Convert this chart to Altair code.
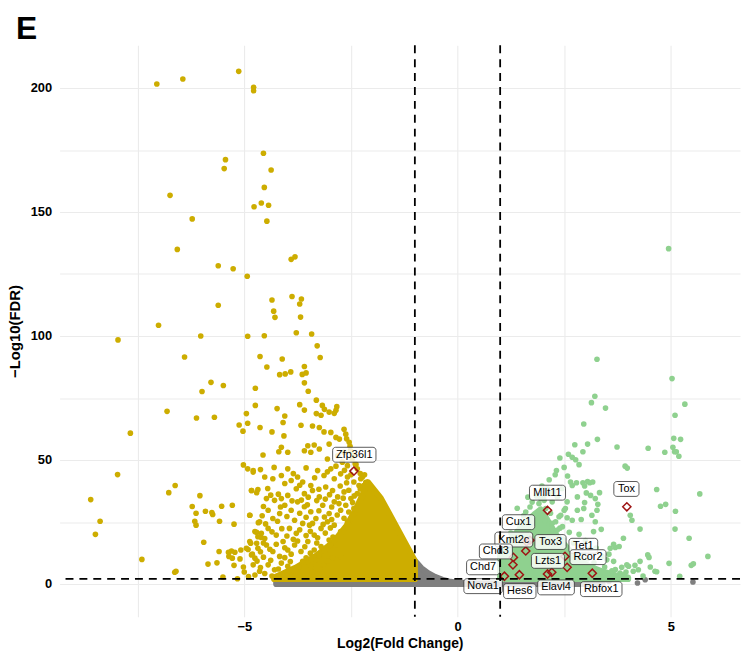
import altair as alt
import pandas as pd

# ---------------- data (log2 fold change, -log10 FDR) ----------------
down_pts = [
    (-7.05,201.6),(-6.44,203.6),(-5.13,206.7),(-4.78,200.3),(-4.78,198.9),(-4.55,173.7),(-5.44,171.1),
    (-5.47,167.5),(-4.37,166.9),(-6.74,156.7),(-4.53,159.9),(-4.77,152.1),(-4.60,153.6),(-4.43,152.7),
    (-6.22,147.2),(-4.47,146.3),(-6.57,134.9),(-3.90,130.9),(-3.81,131.9),(-5.61,128.3),(-5.26,127.1),
    (-4.93,124.1),(-4.35,114.5),(-3.88,115.9),(-3.66,114.9),(-3.70,112.9),(-5.61,112.4),(-4.31,110.0),
    (-4.28,107.5),(-3.68,107.6),(-7.01,104.3),(-7.96,98.4),(-6.02,100.0),(-4.92,99.9),(-4.53,100.1),
    (-3.78,101.3),(-3.42,100.8),(-3.29,96.0),(-6.40,91.5),(-4.63,91.7),(-4.11,90.7),(-3.22,91.3),
    (-4.47,87.5),(-3.59,87.7),(-3.55,85.1),(-4.17,84.4),(-4.04,84.7),(-3.91,85.5),(-3.64,84.5),
    (-5.78,81.3),(-5.49,80.0),(-5.99,77.6),(-3.59,81.1),(-3.50,77.7),(-4.74,78.9),(-3.31,74.1),
    (-3.17,72.0),(-3.70,72.3),(-3.59,70.1),(-4.74,72.0),(-4.23,70.7),(-3.12,70.4),(-3.01,69.3),
    (-2.83,71.5),(-2.85,70.0),(-2.89,68.8),(-4.95,68.7),(-3.20,68.0),(-3.31,68.7),(-6.12,66.9),
    (-5.70,67.2),(-4.05,67.7),(-5.12,64.1),(-4.92,64.8),(-5.03,61.6),
    (-6.81,69.6),(-7.67,60.8),(-7.97,44.1),(-5.02,48.0),(-4.92,46.4),(-4.79,45.1),(-6.62,39.7),
    (-6.77,36.8),(-6.04,35.6),(-8.60,34.0),(-4.83,37.7),(-4.71,36.8),(-6.22,31.2),(-6.13,28.5),
    (-5.91,29.3),(-5.74,28.0),(-5.76,28.8),(-5.53,31.3),(-5.28,31.7),(-8.38,25.3),(-8.49,20.0),
    (-6.16,25.3),(-6.13,23.7),(-5.58,25.3),(-5.24,24.1),(-4.87,27.7),(-4.71,20.8),(-5.95,16.8),
    (-5.59,13.1),(-5.37,12.8),(-5.30,13.3),(-5.22,12.8),(-5.36,11.1),(-5.28,10.4),(-5.08,13.7),
    (-4.95,14.4),(-4.91,13.9),(-4.85,16.4),(-4.71,16.4),(-4.81,12.0),(-4.75,10.4),(-5.10,10.1),
    (-5.85,8.0),(-5.64,8.5),(-5.24,7.5),(-5.02,6.8),(-5.00,4.8),(-7.40,9.9),(-6.63,4.7),(-6.60,5.1),
    (-5.50,2.8),(-5.16,2.1),(-4.75,3.6),(-4.67,24.7),(-4.60,18.7),
    (-4.63,63.1),(-4.35,61.3),(-4.09,65.1),(-4.07,59.7),(-3.67,64.0),(-3.40,63.7),(-3.24,63.1),
    (-3.13,61.3),(-2.97,61.1),(-2.85,59.1),(-2.66,62.4),(-2.62,60.4),(-2.54,57.1),(-3.51,55.7),
    (-3.36,56.0),(-3.24,54.4),(-3.01,56.4),(-4.13,55.1),(-4.19,53.3),(-3.98,53.1),(-3.59,53.7),
    (-3.44,53.1),(-4.56,52.0),(-2.77,58.4),(-2.51,53.7),(-2.66,53.1),(-2.81,51.7),(-3.05,50.4),
    (-2.47,50.4),(-2.58,47.7),(-2.70,49.1),(-2.35,46.4),(-2.23,43.1),(-2.31,39.7),
    (-4.79,45.7),(-4.62,46.1),(-4.52,43.1),(-4.33,42.4),(-4.13,43.7),(-3.98,46.4),(-3.90,41.7),
    (-3.75,43.1),(-3.63,41.1),(-3.44,39.7),(-3.28,45.7),(-3.13,43.7),(-2.97,46.4),(-2.89,42.4),
    (-2.74,44.4),(-2.58,43.1),(-2.43,41.1),(-2.27,42.4),(-2.20,39.7),
    (-4.83,37.7),(-4.68,38.1),(-4.48,34.4),(-4.29,33.7),(-4.13,34.4),(-3.98,35.7),(-3.78,38.4),
    (-3.59,36.4),(-3.40,37.7),(-3.24,35.1),(-3.09,39.1),(-2.93,37.7),(-2.81,35.1),(-2.66,37.1),
    (-2.50,34.4),(-2.35,36.4),
    (-4.87,27.7),(-4.64,25.1),(-4.44,29.7),(-4.33,26.4),(-4.17,28.4),(-4.05,31.7),(-3.90,29.7),
    (-3.75,33.1),(-3.59,31.1),(-3.44,29.1),(-3.32,26.4),(-3.16,31.7),(-3.01,28.4),(-2.89,33.1),
    (-2.74,29.7),(-2.62,31.7),(-2.43,30.4),
    (-4.87,17.1),(-4.75,21.1),(-4.60,20.4),(-4.44,22.4),(-4.25,19.7),(-4.09,17.1),(-3.94,22.4),
    (-3.78,20.4),(-3.63,24.4),(-3.47,23.7),(-3.36,19.7),(-3.20,22.4),(-3.05,25.1),(-2.89,23.7),
    (-2.74,21.1),(-2.58,25.1),
    (-4.83,11.7),(-4.68,14.4),(-4.48,15.7),(-4.33,13.1),(-4.17,11.1),(-3.98,13.7),(-3.82,15.7),
    (-3.67,13.1),(-3.51,17.1),(-3.36,13.7),(-3.20,15.1),(-3.01,17.7),(-2.85,15.7),
    (-4.79,7.7),(-4.64,5.1),(-4.44,7.7),(-4.29,5.7),(-4.13,8.4),(-3.98,7.1),(-3.82,5.1),
    (-3.63,9.1),(-3.44,7.1),(-3.32,9.7),(-3.13,7.7),(-2.93,10.4),(-2.74,11.1),
    (-2.15,41.0),(-2.28,44.5),(-2.40,48.5),(-2.45,52.0),(-2.52,55.5),(-2.60,58.5),(-2.18,44.0),
    (-3.85,44.5),(-3.55,46.8),(-3.35,42.8),(-3.05,45.2),(-2.85,47.5),(-2.65,45.8),(-2.50,44.0),
    (-2.38,48.2),(-4.30,47.0),(-4.05,40.5),
    (-4.45,38.5),(-4.20,36.2),(-3.70,39.8),(-3.50,35.0),(-3.25,38.2),(-3.00,36.0),(-2.75,39.5),
    (-2.55,37.8),(-2.42,35.5),(-2.28,38.3),(-2.60,40.8),
    (-4.55,31.2),(-4.38,35.8),(-4.15,31.0),(-3.88,33.5),(-3.66,33.8),(-3.52,31.9),(-3.30,33.6),
    (-3.10,34.2),(-2.95,31.0),(-2.78,32.4),(-2.55,29.0),(-2.68,34.6),(-2.46,32.8),
    (-4.58,27.5),(-4.50,24.2),(-4.22,25.3),(-4.00,27.2),(-3.82,25.7),(-3.70,28.5),(-3.55,26.9),
    (-3.25,29.5),(-3.12,27.0),(-2.95,26.0),(-2.82,27.8),(-2.66,26.5),(-3.40,24.4),
    (-4.68,19.0),(-4.52,18.3),(-4.35,21.0),(-4.12,22.3),(-4.00,19.3),(-3.85,18.0),(-3.70,21.8),
    (-3.55,19.5),(-3.45,21.2),(-3.28,18.6),(-3.10,20.5),(-2.98,22.6),(-2.92,18.9),(-3.15,24.0),
    (-4.62,13.0),(-4.55,16.5),(-4.40,14.0),(-4.25,16.0),(-4.05,14.6),(-3.90,12.0),(-3.75,17.3),
    (-3.58,15.0),(-3.45,12.4),(-3.30,16.5),(-3.12,13.2),(-2.98,15.8),(-3.25,11.5),
    (-4.90,3.0),(-4.70,9.2),(-4.55,10.8),(-4.52,4.2),(-4.38,9.5),(-4.20,6.0),(-4.05,10.6),
    (-3.92,9.0),(-3.72,6.8),(-3.55,10.5),(-3.40,4.8),(-3.22,5.8),(-3.05,9.3),(-4.62,6.6),
    (-4.35,3.2),(-4.00,3.4),(-3.70,3.0),
]
down_x = [p[0] for p in down_pts]
down_y = [p[1] for p in down_pts]

up_pts = [
    (4.95,135.2),(3.27,90.6),(5.03,82.8),(3.22,75.7),(3.14,73.1),(3.47,70.9),(5.33,72.5),(5.10,68.0),
    (2.96,64.5),(2.75,56.1),(3.05,56.4),(3.28,58.3),(3.74,55.2),(4.47,54.7),(5.07,58.7),(5.23,58.3),
    (5.05,55.1),(5.13,53.3),(5.19,51.5),(4.86,53.1),(2.40,50.8),(2.60,52.3),(2.69,51.1),(2.77,50.1),
    (2.85,48.1),(2.32,45.7),(2.29,44.0),(3.93,47.5),(3.98,46.7),(2.79,40.8),(2.94,40.8),(3.05,41.3),
    (3.10,40.8),(3.17,41.1),(3.33,36.8),(3.23,34.4),(3.29,32.1),(2.98,39.5),(3.02,36.7),(4.67,38.1),
    (5.68,36.3),(4.76,31.3),(4.88,32.1),(5.11,29.3),(4.05,27.7),(4.09,25.7),(4.28,22.1),(5.10,22.1),
    (5.43,18.4),(5.87,11.1),(5.53,8.1),(5.48,7.5),(4.96,8.3),(4.67,4.9),(5.21,3.1),(3.37,22.0),
    (3.19,21.1),(3.23,25.1),(3.15,27.7),(3.27,29.7),(2.96,30.4),(2.98,32.8),(2.81,35.1),(2.69,39.7),
    (3.12,35.7),(2.57,33.1),(2.50,29.7),(2.38,27.1),(2.22,24.4),(2.07,30.4),(2.22,33.1),(2.34,35.1),
    (2.02,35.1),(1.95,34.4),(2.15,36.4),(2.26,37.1),(3.58,14.4),(3.70,14.7),(3.79,15.1),(3.39,11.1),
    (3.50,9.7),(3.66,9.1),(3.89,3.7),(4.01,7.1),(4.16,7.5),(4.28,9.1),(4.46,11.7),(4.49,10.7),
    (3.85,6.7),(3.81,4.4),(3.62,5.3),(2.94,53.3),(5.09,53.3),(2.65,41.1),(2.81,29.7),(2.53,30.4),
    (2.42,27.7),(2.57,26.7),(2.30,25.1),(2.22,22.4),(2.34,21.7),(2.46,23.1),(2.69,25.7),(1.91,32.4),
    (2.03,33.7),(3.89,18.4),(3.66,16.0),(3.97,7.7),(4.24,5.7),(4.12,5.1),(4.63,5.1),
    (1.75,33.0),(1.85,35.5),(2.10,38.5),(1.60,29.0),(2.85,20.0),(3.00,17.5),(3.10,14.0),(2.90,26.0),
    (1.25,20.5),(1.45,24.0),(1.55,27.5),(1.70,31.0),(1.80,26.5),(1.92,29.0),(2.05,25.5),(2.18,28.5),
    (2.28,19.5),(2.40,22.5),(2.48,18.0),(2.62,20.8),(2.72,16.5),(2.80,13.0),(2.95,12.5),(3.05,10.2),
    (3.20,8.5),(3.25,14.5),(3.45,6.8),(3.55,12.0),(3.70,5.8),(3.95,4.8),(3.30,3.5),(3.08,5.0),
    (2.88,6.5),(4.35,3.2),(4.52,6.8),(1.40,30.5),(1.65,35.0),(1.98,39.5),(2.45,38.5),(2.58,43.5),
    (2.50,47.0),(2.15,42.0),
]
up_x = [p[0] for p in up_pts]
up_y = [p[1] for p in up_pts]

ns_x = [4.22, 4.40, 5.52, 3.30, 3.55]
ns_y = [0.4, 1.7, 0.8, 0.6, 1.0]

# dense cores of the point clouds (outline of the overlapping points)
down_core_x = [-4.30, -3.80, -3.30, -2.90, -2.60, -2.40, -2.25, -2.10, -1.80, -1.60, -1.40, -1.20, -1.00]
down_core_top = [2.6, 6.5, 11.5, 17.0, 23.5, 29.5, 35.0, 41.0, 34.6, 28.3, 22.0, 15.6, 9.3]
up_core_x = [1.00, 1.20, 1.40, 1.60, 1.80, 1.95, 2.10, 2.30, 2.50, 2.70, 2.90, 3.10, 3.40, 3.70, 4.00]
up_core_top = [13.0, 17.0, 21.0, 25.0, 28.0, 30.0, 26.0, 20.0, 16.0, 12.0, 9.0, 7.0, 5.0, 3.5, 2.6]
ns_core_x = [-4.25, -1.02, -1.00, -0.85, -0.70, -0.53, -0.35, -0.20, 0.00, 0.30, 0.60, 1.00, 1.50, 2.50, 3.40]
ns_core_top = [1.5, 1.5, 9.3, 6.4, 4.4, 2.8, 1.6, 1.0, 0.5, 0.2, 0.1, 0.1, 0.3, 0.5, 0.3]

genes = ["Zfp36l1", "Mllt11", "Tox", "Cux1", "Kmt2c", "Tox3", "Chd3", "Tet1",
         "Lzts1", "Rcor2", "Chd7", "Nova1", "Hes6", "Elavl4", "Rbfox1"]
gene_x = [-2.43, 2.11, 3.97, 1.62, 1.70, 1.60, 1.31, 2.52, 2.21, 2.57, 1.30, 1.10, 1.45, 2.11, 3.16]
gene_y = [45.5, 29.7, 31.1, 17.0, 17.6, 13.3, 10.7, 11.1, 4.7, 6.7, 7.7, 3.1, 3.7, 4.0, 4.3]
label_x = [-2.42, 2.11, 3.96, 1.43, 1.32, 2.18, 0.90, 2.95, 2.12, 3.06, 0.60, 0.60, 1.46, 2.31, 3.37]
label_y = [52.1, 36.8, 38.3, 24.9, 17.9, 16.9, 13.1, 15.4, 9.3, 10.8, 6.7, -0.9, -2.9, -1.4, -2.1]

fc_cut = [-1, 1]
fdr_cut = [2]

# ---------------- layout / style ----------------
FONT = "Liberation Sans"
YELLOW = "#CDAD00"
GREEN = "#8FD18F"
GREY = "#7F7F7F"
RED = "#9E1414"
W, H = 686, 576
XMIN, XMAX = -9.33, -9.33 + W / 43.0
YMIN, YMAX = -13.2, 217.2
PXX = W / (XMAX - XMIN)
PXY = H / (YMAX - YMIN)
PT = 32
STROKE = 6.2

xs = alt.Scale(domain=[XMIN, XMAX], nice=False, zero=False)
ys = alt.Scale(domain=[YMIN, YMAX], nice=False, zero=False)

xaxis = alt.Axis(values=[-7.5, -5, -2.5, 0, 2.5, 5],
                 labelExpr="datum.value % 5 === 0 ? datum.label : ''",
                 grid=True, gridColor="#EBEBEB", gridWidth=1.1, ticks=False, tickSize=0,
                 domain=False, labelFont=FONT, labelFontSize=13, labelFontWeight="bold",
                 labelColor="black", labelPadding=4, labelOverlap=False,
                 title="Log2(Fold Change)", titleFont=FONT, titleFontSize=14,
                 titleFontWeight="bold", titleColor="black", titleY=27, titleBaseline="middle")
yaxis = alt.Axis(values=list(range(0, 201, 25)),
                 labelExpr="datum.value % 50 === 0 ? datum.label : ''",
                 grid=True, gridColor="#EBEBEB", gridWidth=1.1, ticks=False, tickSize=0,
                 domain=False, labelFont=FONT, labelFontSize=13, labelFontWeight="bold",
                 labelColor="black", labelPadding=8, labelOverlap=False,
                 title="\u2212Log10(FDR)", titleFont=FONT, titleFontSize=15,
                 titleFontWeight="bold", titleColor="black", titleX=-45, titleBaseline="middle")

# char widths (em) for label boxes
CW = {"Z": .611, "M": .833, "T": .611, "C": .722, "K": .667, "L": .556, "R": .722, "N": .722,
      "H": .722, "E": .667, "f": .278, "p": .556, "l": .222, "t": .278, "o": .556, "x": .5,
      "u": .556, "m": .833, "c": .5, "h": .556, "d": .556, "e": .556, "s": .5, "z": .5,
      "r": .333, "v": .5, "a": .556, "b": .556, "i": .222}


def tw(s, fs=11):
    return sum(CW.get(c, .556) for c in s) * fs


lab = pd.DataFrame({"gene": genes, "lx": label_x, "ly": label_y})
lab["x1"] = [x - (tw(g) + 7) / 2 / PXX for x, g in zip(label_x, genes)]
lab["x2"] = [x + (tw(g) + 7) / 2 / PXX for x, g in zip(label_x, genes)]
lab["y1"] = [y - 7.5 / PXY for y in label_y]
lab["y2"] = [y + 7.5 / PXY for y in label_y]


def X(f):
    return alt.X(f, scale=xs, axis=xaxis)


def Y(f):
    return alt.Y(f, scale=ys, axis=yaxis)


def cloud(xv, tops, bot, color):
    df = pd.DataFrame({"x": xv, "top": tops, "bot": [bot] * len(xv)})
    return alt.Chart(df).mark_area(
        color=color, stroke=color, strokeWidth=STROKE, strokeJoin="round", opacity=1
    ).encode(x=X("x:Q"), y=Y("top:Q"), y2="bot:Q")


def dots(xv, yv, color):
    return alt.Chart(pd.DataFrame({"x": xv, "y": yv})).mark_circle(
        color=color, size=PT, opacity=1).encode(x=X("x:Q"), y=Y("y:Q"))


ns_area = cloud(ns_core_x, ns_core_top, 0, GREY)
ns_pts = dots(ns_x, ns_y, GREY)
down_area = cloud(down_core_x, down_core_top, 2, YELLOW)
down_layer = dots(down_x, down_y, YELLOW)
up_area = cloud(up_core_x, up_core_top, 2, GREEN)
up_layer = dots(up_x, up_y, GREEN)

diamonds = alt.Chart(pd.DataFrame({"x": gene_x, "y": gene_y})).mark_point(
    shape="diamond", filled=False, size=68, strokeWidth=1.5, color=RED, opacity=1
).encode(x=X("x:Q"), y=Y("y:Q"))

boxes = alt.Chart(lab).mark_rect(
    fill="white", fillOpacity=0.82, stroke="#333333", strokeWidth=0.8, cornerRadius=3
).encode(x=X("x1:Q"), x2="x2:Q", y=Y("y1:Q"), y2="y2:Q")

texts = alt.Chart(lab).mark_text(font=FONT, fontSize=11, color="black", align="center", baseline="middle").encode(
    x=X("lx:Q"), y=Y("ly:Q"), text="gene:N")

vrules = alt.Chart(pd.DataFrame({"x": fc_cut})).mark_rule(
    color="black", strokeWidth=1.8, strokeDash=[8, 6]).encode(x=X("x:Q"))
hrules = alt.Chart(pd.DataFrame({"y": fdr_cut})).mark_rule(
    color="black", strokeWidth=1.8, strokeDash=[8, 6]).encode(y=Y("y:Q"))

panel_tag = alt.Chart(pd.DataFrame({"t": ["E"]})).mark_text(
    font=FONT, fontSize=32, fontWeight="bold", color="black", align="left", baseline="alphabetic"
).encode(x=alt.value(-44), y=alt.value(-6), text="t:N")

chart = alt.layer(
    ns_area, ns_pts, down_area, down_layer, up_area, up_layer, diamonds, boxes, texts, vrules, hrules, panel_tag
).properties(
    width=W, height=H,
    padding={"left": 52, "top": 35, "right": 1, "bottom": 34},
    autosize=alt.AutoSizeParams(type="none"),
    background="white",
).configure_view(stroke=None)

chart.save("out.html", embed_options={"renderer": "svg", "actions": False})
